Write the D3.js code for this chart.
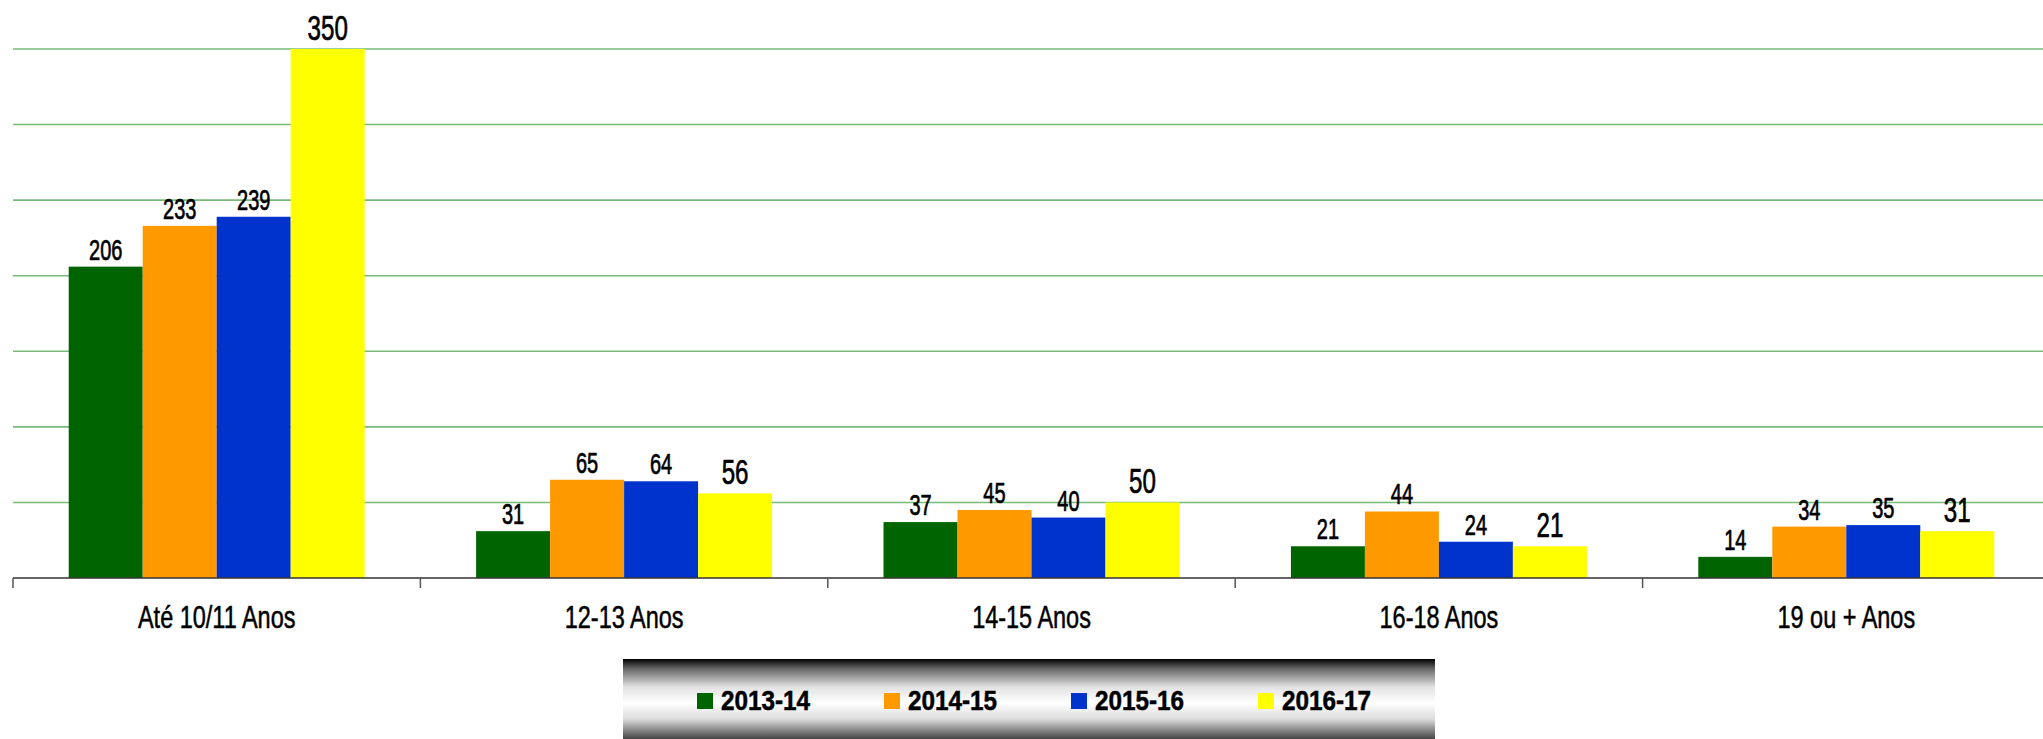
<!DOCTYPE html>
<html>
<head>
<meta charset="utf-8">
<script src="https://cdn.jsdelivr.net/npm/d3@7"></script>
<style>
	html, body { margin: 0; padding: 0; background: #fff; }
	svg { display: block; }
	text { font-family: "Liberation Sans", Arial, sans-serif; }
</style>
</head>
<body>
<svg width="2043" height="739"></svg>
<script>
var categories = ["Até 10/11 Anos", "12-13 Anos", "14-15 Anos", "16-18 Anos", "19 ou + Anos"];
var seasons = ["2013-14", "2014-15", "2015-16", "2016-17"];

var s2013 = [206, 31, 37, 21, 14],
	s2014 = [233, 65, 45, 44, 34],
	s2015 = [239, 64, 40, 24, 35],
	s2016 = [350, 56, 50, 21, 31];

var gridTicks = [50, 100, 150, 200, 250, 300, 350];

var colors = ["#006400", "#ff9900", "#0033cc", "#ffff00"];

var svg = d3.select("svg"),
	plotLeft = 13,
	bandStep = 407.4,
	plotBase = 578,
	plotTop = 49;

var series = [s2013, s2014, s2015, s2016];

var x = d3.scaleBand()
	.domain(categories)
	.range([plotLeft, plotLeft + bandStep * categories.length])
	.padding(0);

var xs = d3.scaleBand()
	.domain(seasons)
	.range([0, x.bandwidth()])
	.paddingInner(0)
	.paddingOuter(0.753);

var y = d3.scaleLinear()
	.domain([0, 350])
	.range([plotBase, plotTop]);

var color = d3.scaleOrdinal().domain(seasons).range(colors);

// gridlines
svg.append("g")
	.selectAll("line")
	.data(gridTicks)
	.enter().append("line")
	.attr("x1", plotLeft)
	.attr("x2", 2043)
	.attr("y1", function(d) { return y(d); })
	.attr("y2", function(d) { return y(d); })
	.attr("stroke", "#78bb78")
	.attr("stroke-width", 1.6);

// bars
var rows = [];
categories.forEach(function(c, i) {
	seasons.forEach(function(s, j) {
		rows.push({cat: c, season: s, value: series[j][i], big: j == 3});
	});
});

svg.append("g")
	.selectAll("rect")
	.data(rows)
	.enter().append("rect")
	.attr("x", function(d) { return x(d.cat) + xs(d.season); })
	.attr("y", function(d) { return y(d.value); })
	.attr("width", xs.bandwidth())
	.attr("height", function(d) { return y(0) - y(d.value); })
	.attr("fill", function(d) { return color(d.season); });

// value labels (narrowed to look like the condensed face of the original)
svg.append("g")
	.selectAll("text")
	.data(rows)
	.enter().append("text")
	.attr("transform", function(d) {
		var cx = x(d.cat) + xs(d.season) + xs.bandwidth() / 2,
			cy = y(d.value) - (d.big ? 9 : 7);
		return "translate(" + cx + "," + cy + ") scale(0.69,1)";
	})
	.attr("text-anchor", "middle")
	.attr("font-size", function(d) { return d.big ? 35 : 29; })
	.attr("fill", "#000")
	.attr("stroke", "#000")
	.attr("stroke-width", 0.7)
	.text(function(d) { return d.value; });

// x axis
var xAxis = d3.axisBottom(x).tickSize(0).tickPadding(0);
var ax = svg.append("g")
	.attr("transform", "translate(0," + plotBase + ")")
	.call(xAxis);
ax.select(".domain")
	.attr("d", "M" + plotLeft + ",0H2043")
	.attr("stroke", "#333")
	.attr("stroke-width", 1.6);
ax.selectAll(".tick text")
	.attr("y", 0)
	.attr("dy", 0)
	.attr("transform", "translate(0,50) scale(0.77,1)")
	.attr("font-size", 30.5)
	.attr("font-family", null)
	.attr("fill", "#000")
	.attr("stroke", "#000")
	.attr("stroke-width", 0.5);

// category separators
svg.append("g")
	.selectAll("line")
	.data(categories)
	.enter().append("line")
	.attr("x1", function(d) { return x(d); })
	.attr("x2", function(d) { return x(d); })
	.attr("y1", plotBase)
	.attr("y2", plotBase + 10)
	.attr("stroke", "#555")
	.attr("stroke-width", 1.5);

// legend
var defs = svg.append("defs");
var grad = defs.append("linearGradient")
	.attr("id", "lg")
	.attr("x1", 0).attr("y1", 0)
	.attr("x2", 0).attr("y2", 1);
[[0, "#000"], [0.12, "#666"], [0.35, "#e2e2e2"], [0.55, "#fff"], [0.75, "#dcdcdc"], [1, "#444"]].forEach(function(s) {
	grad.append("stop").attr("offset", s[0]).attr("stop-color", s[1]);
});

var lg = svg.append("g").attr("transform", "translate(623,659)");
lg.append("rect")
	.attr("width", 812)
	.attr("height", 80)
	.attr("fill", "url(#lg)");

var item = lg.selectAll(".item")
	.data(seasons)
	.enter().append("g")
	.attr("class", "item")
	.attr("transform", function(d, i) { return "translate(" + (74 + i * 187) + ",0)"; });

item.append("rect")
	.attr("y", 34)
	.attr("width", 16)
	.attr("height", 16)
	.attr("fill", function(d) { return color(d); });

item.append("text")
	.attr("transform", "translate(24,51) scale(0.9,1)")
	.attr("font-size", 27)
	.attr("font-weight", "bold")
	.attr("fill", "#000")
	.attr("stroke", "#000")
	.attr("stroke-width", 0.5)
	.text(function(d) { return d; });
</script>
</body>
</html>
